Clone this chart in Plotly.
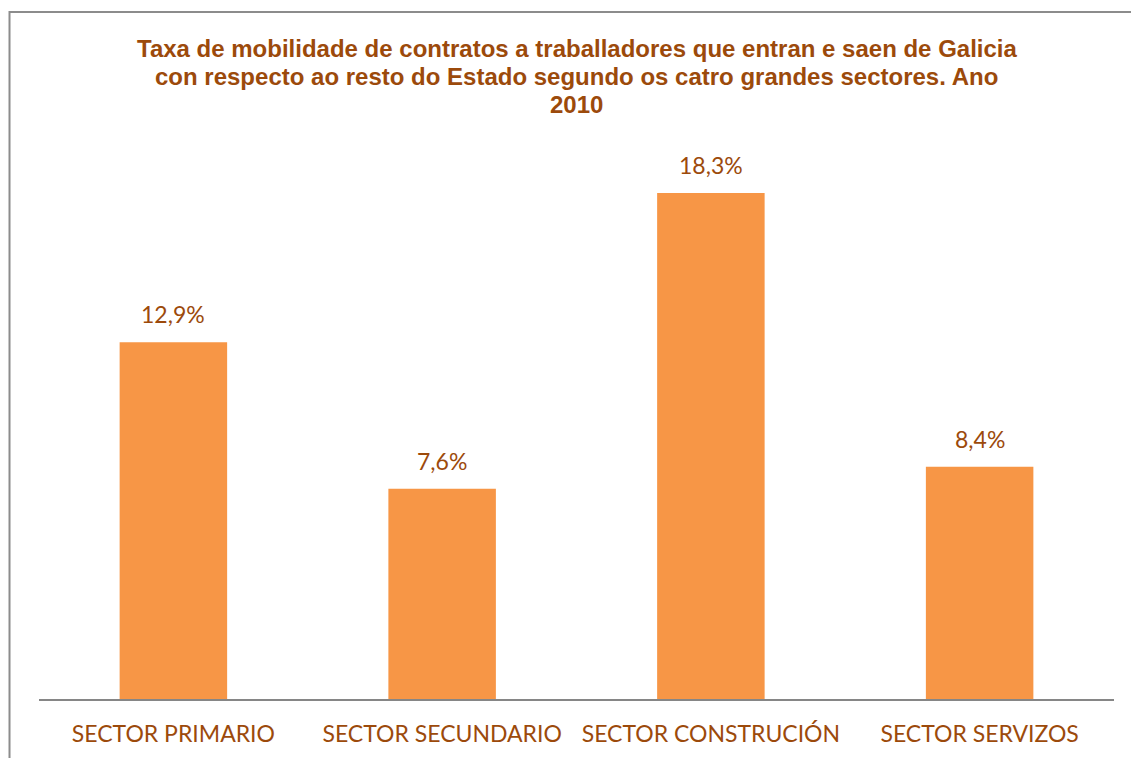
import plotly.graph_objects as go

categories = ["SECTOR PRIMARIO", "SECTOR SECUNDARIO", "SECTOR CONSTRUCIÓN", "SECTOR SERVIZOS"]
values = [12.9, 7.6, 18.3, 8.4]
title_lines = ["Taxa de mobilidade de contratos a traballadores que entran e saen de Galicia",
               "con respecto ao resto do Estado segundo os catro grandes sectores. Ano",
               "2010"]

W, H = 1131, 758
L, R, T, B = 38.5, 17, 146, 58.5
pw, ph = W - L - R, H - T - B

brown = "#9C4A0B"
bar_color = "#F79646"
label_font = "Lato, Calibri, Carlito, sans-serif"

def px_x(x): return (x - L) / pw
def px_y(y): return (H - B - y) / ph

fig = go.Figure(go.Bar(x=categories, y=values, marker=dict(color=bar_color, line=dict(width=0)),
                       hoverinfo="skip"))

for c, v in zip(categories, values):
    fig.add_annotation(x=c, y=v, text=f"{v:.1f}".replace(".", ",") + "%", showarrow=False,
                       yanchor="bottom", yshift=12, font=dict(family=label_font, size=23, color=brown))

# title, one annotation per line (tighter line spacing than plotly's title)
for i, line in enumerate(title_lines):
    fig.add_annotation(xref="paper", yref="paper", x=px_x(576.5), y=px_y(48 + 28 * i),
                       text=f"<b>{line}</b>", showarrow=False, xanchor="center", yanchor="middle",
                       font=dict(family="Arial", size=24, color=brown))

# outer chart border
fig.add_shape(type="rect", xref="paper", yref="paper", x0=px_x(9), x1=px_x(1145),
              y0=px_y(775), y1=px_y(12), line=dict(color="#8C8C8C", width=2), layer="above")

fig.update_layout(
    width=W, height=H,
    margin=dict(l=L, r=R, t=T, b=B),
    paper_bgcolor="white", plot_bgcolor="white",
    bargap=0.6,
    showlegend=False,
    xaxis=dict(showline=True, linecolor="#868686", linewidth=2, showgrid=False, ticks="",
               ticklabelstandoff=13,
               tickfont=dict(family=label_font, size=23, color=brown), fixedrange=True),
    yaxis=dict(range=[0, 20], visible=False, showgrid=False, zeroline=False, fixedrange=True),
)

fig.write_html("out.html", config={"displayModeBar": False},
               post_script="document.body.style.margin='0px';")
